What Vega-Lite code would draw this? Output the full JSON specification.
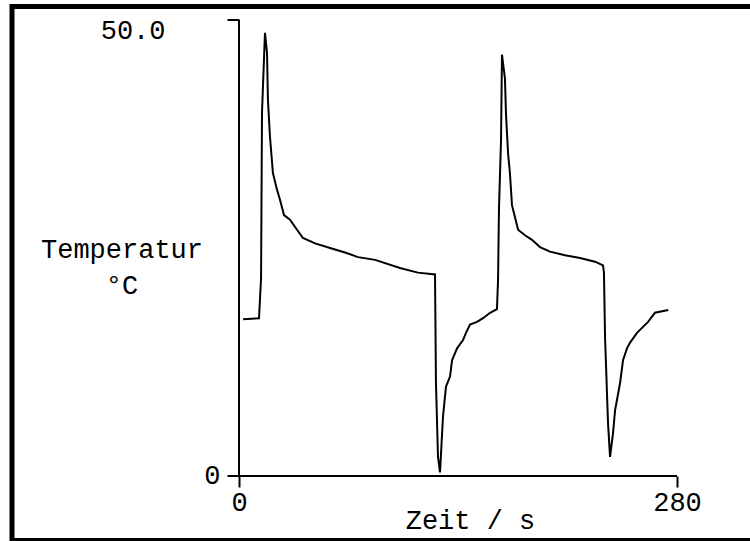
{
  "$schema": "https://vega.github.io/schema/vega-lite/v6.json",
  "width": 738,
  "height": 534,
  "autosize": {"type": "none"},
  "padding": {"left": 12, "top": 6.5, "right": 0, "bottom": 1},
  "background": "white",
  "view": {"stroke": "black", "strokeWidth": 5, "strokeDash": [738, 534, 1272, 30]},
  "config": {"font": "Liberation Mono"},
  "datasets": {
    "axes": [
      {"t": 0, "t2": 0, "T": 0, "T2": 50},
      {"t": 0, "t2": 280, "T": 0, "T2": 0}
    ],
    "curve": [
      {"t": 2.6, "T": 17.2}, {"t": 12.8, "T": 17.3}, {"t": 14.1, "T": 21.7}, {"t": 14.7, "T": 39.8},
      {"t": 16.6, "T": 48.6}, {"t": 17.9, "T": 46.4}, {"t": 18.5, "T": 41.2}, {"t": 19.8, "T": 37.2},
      {"t": 21.7, "T": 33.2}, {"t": 24.3, "T": 31.4}, {"t": 26.2, "T": 30.3}, {"t": 28.8, "T": 28.6},
      {"t": 32.6, "T": 28.1}, {"t": 37.1, "T": 27.0}, {"t": 40.9, "T": 26.1}, {"t": 48.6, "T": 25.5},
      {"t": 58.2, "T": 25.0}, {"t": 67.8, "T": 24.5}, {"t": 76.1, "T": 24.0}, {"t": 87.0, "T": 23.7},
      {"t": 102.9, "T": 22.8}, {"t": 114.4, "T": 22.3}, {"t": 125.3, "T": 22.1}, {"t": 125.9, "T": 10.3},
      {"t": 127.2, "T": 2.1}, {"t": 128.5, "T": 0.4}, {"t": 130.4, "T": 6.5}, {"t": 132.3, "T": 9.8},
      {"t": 134.9, "T": 10.9}, {"t": 136.2, "T": 12.7}, {"t": 139.4, "T": 14.0}, {"t": 143.2, "T": 14.9},
      {"t": 145.1, "T": 15.7}, {"t": 147.7, "T": 16.6}, {"t": 152.2, "T": 16.9}, {"t": 156.0, "T": 17.3},
      {"t": 160.5, "T": 17.9}, {"t": 164.9, "T": 18.3}, {"t": 165.6, "T": 21.5}, {"t": 166.2, "T": 29.4},
      {"t": 167.5, "T": 36.8}, {"t": 168.1, "T": 46.2}, {"t": 170.0, "T": 43.6}, {"t": 170.7, "T": 39.6},
      {"t": 172.0, "T": 35.4}, {"t": 173.2, "T": 33.2}, {"t": 174.5, "T": 29.7}, {"t": 176.4, "T": 28.4},
      {"t": 178.4, "T": 27.0}, {"t": 182.8, "T": 26.4}, {"t": 187.3, "T": 25.9}, {"t": 192.4, "T": 25.1},
      {"t": 198.8, "T": 24.6}, {"t": 208.4, "T": 24.2}, {"t": 218.0, "T": 23.9}, {"t": 227.6, "T": 23.5},
      {"t": 232.7, "T": 23.1}, {"t": 233.3, "T": 22.3}, {"t": 234.0, "T": 15.2}, {"t": 235.9, "T": 5.8},
      {"t": 237.2, "T": 2.1}, {"t": 239.1, "T": 4.7}, {"t": 240.4, "T": 7.2}, {"t": 243.6, "T": 10.2},
      {"t": 245.5, "T": 12.7}, {"t": 248.0, "T": 14.0}, {"t": 249.9, "T": 14.6}, {"t": 254.4, "T": 15.7},
      {"t": 261.5, "T": 16.9}, {"t": 265.9, "T": 17.9}, {"t": 274.4, "T": 18.2}
    ]
  },
  "layer": [
    {
      "data": {"name": "axes"},
      "mark": {"type": "rule", "color": "black", "strokeWidth": 2},
      "encoding": {
        "x": {
          "field": "t",
          "type": "quantitative",
          "scale": {"domain": [-145.11, 326.66], "nice": false, "zero": false},
          "axis": {
            "orient": "bottom",
            "offset": -64.5,
            "domain": false,
            "grid": false,
            "values": [0, 280],
            "format": "d",
            "tickSize": 11,
            "tickWidth": 2,
            "tickColor": "black",
            "labelFont": "Liberation Mono",
            "labelFontSize": 27,
            "labelColor": "black",
            "labelAlign": "center",
            "labelBaseline": "middle",
            "labelPadding": 15,
            "labelFlush": false,
            "labelOverlap": false,
            "title": "Zeit / s",
            "titleFont": "Liberation Mono",
            "titleFontSize": 27,
            "titleFontWeight": "normal",
            "titleColor": "black",
            "titleAlign": "center",
            "titleBaseline": "alphabetic",
            "titleX": 458,
            "titleY": 52
          }
        },
        "x2": {"field": "t2"},
        "y": {
          "field": "T",
          "type": "quantitative",
          "scale": {"domain": [-7.073, 51.48], "nice": false, "zero": false},
          "axis": {
            "orient": "left",
            "offset": -227,
            "domain": false,
            "grid": false,
            "values": [0, 50],
            "labelExpr": "datum.value == 0 ? '0' : '50.0'",
            "tickSize": 12,
            "tickWidth": 2,
            "tickColor": "black",
            "labelFont": "Liberation Mono",
            "labelFontSize": 27,
            "labelColor": "black",
            "labelAlign": "right",
            "labelBaseline": "middle",
            "labelPadding": {"condition": {"test": "datum.value == 50", "value": 62}, "value": 7},
            "labelOffset": {"condition": {"test": "datum.value == 50", "value": 10.5}, "value": 0},
            "labelFlush": false,
            "labelOverlap": false,
            "title": ["Temperatur", "°C"],
            "titleFont": "Liberation Mono",
            "titleFontSize": 27,
            "titleFontWeight": "normal",
            "titleColor": "black",
            "titleAngle": 0,
            "titleAlign": "center",
            "titleBaseline": "alphabetic",
            "titleLineHeight": 36,
            "titleX": -117.5,
            "titleY": 250.5
          }
        },
        "y2": {"field": "T2"}
      }
    },
    {
      "data": {"name": "curve"},
      "mark": {"type": "line", "color": "black", "strokeWidth": 2},
      "encoding": {
        "x": {"field": "t", "type": "quantitative"},
        "y": {"field": "T", "type": "quantitative"}
      }
    }
  ]
}
